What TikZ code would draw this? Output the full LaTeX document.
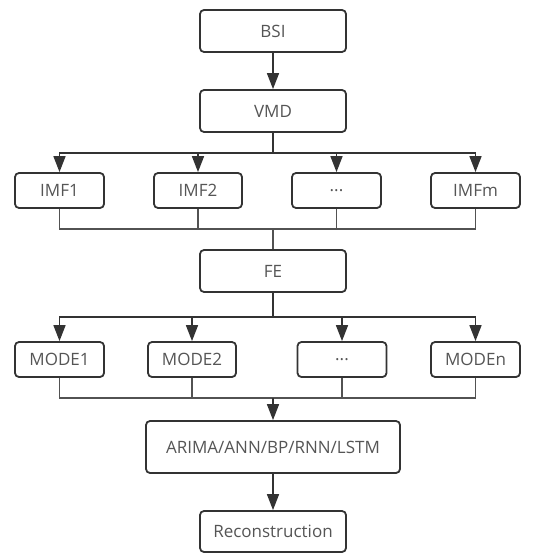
\documentclass[tikz,border=0pt]{standalone}
\usepackage{fontspec}
\setmainfont{Open Sans}
\usetikzlibrary{arrows.meta}
\definecolor{ln}{HTML}{333333}
\definecolor{tx}{HTML}{555555}
\tikzset{
  box/.style={draw=ln, line width=1.8pt, rounded corners=4pt, fill=white,
    text=tx, font=\fontsize{17}{19}\selectfont, inner sep=0pt, anchor=center},
  arr/.style={draw=ln, line width=1.6pt, -{Triangle[length=16pt,width=12pt]}},
  mrg/.style={draw=ln!85, line width=1.4pt},
}
\begin{document}
\begin{tikzpicture}[x=1pt,y=-1pt]
\useasboundingbox (0,0) rectangle (535,553);
% nodes
\node[box, minimum width=146pt, minimum height=42pt] (bsi) at (273,31) {BSI};
\node[box, minimum width=146pt, minimum height=42pt] (vmd) at (273,111) {VMD};
\node[box, minimum width=89pt, minimum height=35pt] (imf1) at (59.5,190.5) {IMF1};
\node[box, minimum width=88pt, minimum height=35pt] (imf2) at (198,190.5) {IMF2};
\node[box, minimum width=89pt, minimum height=35pt] (imfd) at (336.5,190.5) {...};
\node[box, minimum width=89pt, minimum height=35pt] (imfm) at (475.5,190.5) {IMFm};
\node[box, minimum width=146pt, minimum height=42pt] (fe) at (273,271) {FE};
\node[box, minimum width=89pt, minimum height=35pt] (mode1) at (59.5,359.5) {MODE1};
\node[box, minimum width=88pt, minimum height=35pt] (mode2) at (192,359.5) {MODE2};
\node[box, minimum width=89pt, minimum height=35pt] (moded) at (342,359.5) {...};
\node[box, minimum width=89pt, minimum height=35pt] (moden) at (475.5,359.5) {MODEn};
\node[box, minimum width=254pt, minimum height=52pt] (arima) at (273,447) {ARIMA/ANN/BP/RNN/LSTM};
\node[box, minimum width=146pt, minimum height=41pt] (rec) at (273,531.5) {Reconstruction};
% bus coordinates
\coordinate (busa) at (273,153);
\coordinate (mrga) at (273,229);
\coordinate (busb) at (273,317);
\coordinate (mrgb) at (273,398);
% connectors
\draw[arr] (bsi) -- (vmd);
\foreach \t in {imf1,imf2,imfd,imfm}{
  \draw[arr] (vmd.south) -- (busa) -| (\t.north);
}
\foreach \t in {imf1,imf2,imfd,imfm}{
  \draw[mrg] (\t.south) |- (mrga);
}
\draw[mrg] (mrga) -- (fe.north);
\foreach \t in {mode1,mode2,moded,moden}{
  \draw[arr] (fe.south) -- (busb) -| (\t.north);
}
\foreach \t in {mode1,mode2,moded,moden}{
  \draw[mrg] (\t.south) |- (mrgb);
}
\draw[arr] (mrgb) -- (arima.north);
\draw[arr] (arima) -- (rec);
\end{tikzpicture}
\end{document}
